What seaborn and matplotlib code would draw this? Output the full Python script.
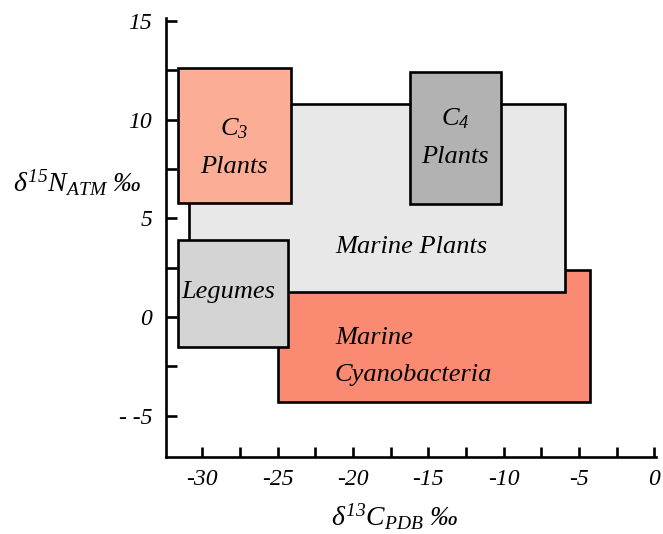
import matplotlib
matplotlib.use("Agg")
import matplotlib.pyplot as plt
import seaborn as sns

# Boxes: delta13C range (x) and delta15N range (y), drawn back to front
groups = ["Marine\nCyanobacteria", "Marine Plants", "$C_3$\nPlants", "$C_4$\nPlants", "Legumes"]
c13_low = [-25.0, -30.9, -31.6, -16.2, -31.6]
c13_high = [-4.3, -5.9, -24.1, -10.2, -24.3]
n15_low = [-4.3, 1.25, 5.8, 5.7, -1.5]
n15_high = [2.4, 10.8, 12.6, 12.4, 3.9]
box_colors = ["#FA8A72", "#E8E8E8", "#FCAD96", "#B2B2B2", "#D4D4D4"]

# where each name sits inside its box
label_x = [-21.2, -16.1, -27.9, -13.2, -28.3]
label_y = [-2.0, 3.55, 8.6, 9.1, 1.27]
label_ha = ["left", "center", "center", "center", "center"]

x_ticks = [-30, -25, -20, -15, -10, -5, 0]
x_ticklabels = ["-30", "-25", "-20", "-15", "-10", "-5", "0"]
y_ticks = [-5, 0, 5, 10, 15]
y_ticklabels = ["- -5", "0", "5", "10", "15"]

sns.set_theme(style="ticks")
plt.rcParams["font.family"] = ["Liberation Serif", "DejaVu Serif"]
plt.rcParams["font.style"] = "italic"
plt.rcParams["text.color"] = "black"
plt.rcParams["axes.labelcolor"] = "black"
plt.rcParams["mathtext.fontset"] = "custom"
plt.rcParams["mathtext.it"] = "Liberation Serif:italic"
plt.rcParams["mathtext.rm"] = "Liberation Serif:italic"

fig = plt.figure(figsize=(6.63, 5.34), dpi=100)
ax = fig.add_axes([0.2504, 0.1442, 0.7388, 0.822])

widths = [h - l for l, h in zip(c13_low, c13_high)]
heights = [h - l for l, h in zip(n15_low, n15_high)]
for i in range(len(groups)):
    ax.bar(c13_low[i], heights[i], width=widths[i], bottom=n15_low[i], align="edge",
           color=box_colors[i], edgecolor="black", linewidth=1.9, zorder=2 + i)
    ax.text(label_x[i], label_y[i], groups[i], ha=label_ha[i], va="center",
            fontsize=19, style="italic", color="black", zorder=10, linespacing=1.85)

ax.set_xlim(-32.4, 0.1)
ax.set_ylim(-7.1, 15.15)

ax.set_xticks(x_ticks)
ax.set_xticklabels(x_ticklabels)
ax.set_xticks([-27.5, -22.5, -17.5, -12.5, -7.5, -2.5], minor=True)
ax.set_yticks(y_ticks)
ax.set_yticklabels(y_ticklabels)
ax.set_yticks([-2.5, 2.5, 7.5, 12.5], minor=True)

ax.tick_params(axis="both", which="both", direction="in", width=1.9, color="black",
               labelsize=17, labelcolor="black")
ax.tick_params(axis="x", which="both", length=7, pad=9)
ax.tick_params(axis="y", which="both", length=8, pad=10)

sns.despine(ax=ax)
for side in ["left", "bottom"]:
    ax.spines[side].set_linewidth(1.9)
    ax.spines[side].set_color("black")

ax.set_xlabel(r"$\delta^{13}C_{PDB}$ ‰", fontsize=20, va="center")
ax.xaxis.set_label_coords(0.4675, -0.137)
ax.set_ylabel(r"$\delta^{15}N_{ATM}$ ‰", fontsize=20, rotation=0, ha="left", va="center")
ax.yaxis.set_label_coords(-0.312, 0.624)

fig.savefig("out.png", dpi=100)
